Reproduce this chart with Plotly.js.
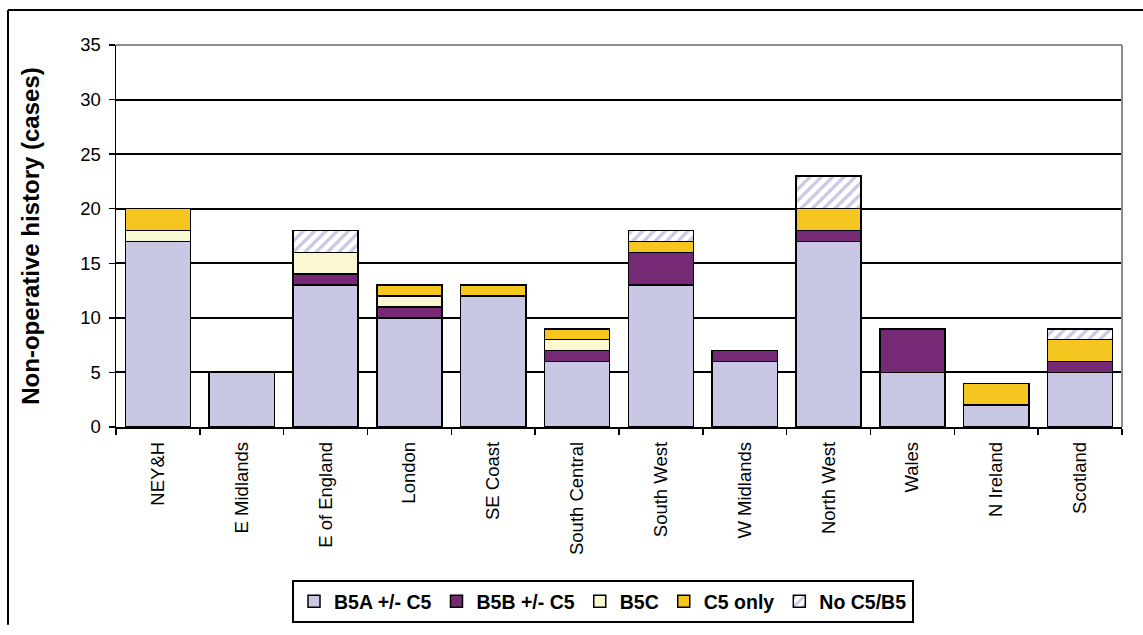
<!DOCTYPE html>
<html>
<head>
<meta charset="utf-8">
<script src="https://cdn.plot.ly/plotly-3.0.1.min.js"></script>
<style>
  html, body { margin: 0; padding: 0; background: #ffffff; }
  #chart { width: 1143px; height: 635px; }
</style>
</head>
<body>
<div id="chart"></div>
<script>
// Regions
const regions = ['NEY&H', 'E Midlands', 'E of England', 'London', 'SE Coast', 'South Central',
                 'South West', 'W Midlands', 'North West', 'Wales', 'N Ireland', 'Scotland'];

// Cases by history category, stacked in this order
const b5a    = [17, 5, 13, 10, 12, 6, 13, 6, 17, 5, 2, 5];
const b5b    = [0, 0, 1, 1, 0, 1, 3, 1, 1, 4, 0, 1];
const b5c    = [1, 0, 2, 1, 0, 1, 0, 0, 0, 0, 0, 0];
const c5only = [2, 0, 0, 1, 1, 1, 1, 0, 2, 0, 2, 2];
const noC5B5 = [0, 0, 2, 0, 0, 0, 1, 0, 3, 0, 0, 1];

const seriesNames = ['B5A +/- C5', 'B5B +/- C5', 'B5C', 'C5 only', 'No C5/B5'];
const yTicks = [0, 5, 10, 15, 20, 25, 30, 35];

const FONT = 'Liberation Sans, Arial, sans-serif';
const outline = { color: '#000000', width: 1.5 };

function barTrace(name, values, marker) {
  return {
    type: 'bar', name: name, x: regions, y: values,
    marker: Object.assign({ line: outline }, marker),
    hoverinfo: 'skip'
  };
}

const traces = [
  barTrace(seriesNames[0], b5a,    { color: '#c9c8e4' }),
  barTrace(seriesNames[1], b5b,    { color: '#762a76' }),
  barTrace(seriesNames[2], b5c,    { color: '#faf8d2' }),
  barTrace(seriesNames[3], c5only, { color: '#f5c620' }),
  barTrace(seriesNames[4], noC5B5, {
    color: '#ffffff',
    pattern: { shape: '/', fgcolor: '#c9c8e4', bgcolor: '#ffffff', size: 8, solidity: 0.4 }
  })
];

// plot area spans x 116..1122, y 45..437 px
const L = 116, R = 1122, T = 45, B = 437;
const px = v => (v - L) / (R - L);
const py = v => (B - v) / (B - T);

const layout = {
  width: 1143, height: 635,
  margin: { l: L, r: 1143 - R, t: T, b: 635 - B, pad: 0 },
  paper_bgcolor: '#ffffff', plot_bgcolor: '#ffffff',
  barmode: 'stack', bargap: 0.224,
  font: { family: FONT, color: '#000000', size: 18 },
  showlegend: true,
  legend: {
    orientation: 'h', x: px(603), xanchor: 'center', y: py(594), yanchor: 'top',
    bordercolor: '#000000', borderwidth: 2, bgcolor: '#ffffff',
    font: { family: FONT, size: 19.5, weight: 'bold', color: '#000000' },
    traceorder: 'normal', itemwidth: 30, itemclick: false
  },
  xaxis: {
    type: 'category', tickangle: -90,
    ticks: 'outside', tickson: 'boundaries', ticklen: 6, tickwidth: 1.5, tickcolor: '#000000',
    ticklabelstandoff: 6,
    showline: true, linecolor: '#000000', linewidth: 1.5,
    showgrid: false, automargin: false,
    tickfont: { family: FONT, size: 18.5, color: '#000000' }
  },
  yaxis: {
    range: [0, 35], tickmode: 'array', tickvals: yTicks, ticktext: yTicks.map(String),
    ticks: 'outside', ticklen: 6, tickwidth: 1.5, tickcolor: '#000000',
    ticklabelstandoff: 4,
    showline: true, linecolor: '#000000', linewidth: 1.5,
    showgrid: true, gridcolor: '#000000', gridwidth: 2,
    zeroline: false, automargin: false,
    tickfont: { family: FONT, size: 18.5, color: '#000000' },
    title: { text: 'Non-operative history (cases)', standoff: 34,
             font: { family: FONT, size: 24, weight: 'bold', color: '#000000' } }
  },
  shapes: [
    // grey frame on the top and right of the plot area
    { type: 'line', xref: 'paper', yref: 'paper', x0: 0, x1: 1, y0: 1, y1: 1,
      line: { color: '#8c8c8c', width: 2 }, layer: 'above' },
    { type: 'line', xref: 'paper', yref: 'paper', x0: 1, x1: 1, y0: 0, y1: 1,
      line: { color: '#8c8c8c', width: 2 }, layer: 'above' },
    // outer chart border
    { type: 'line', xref: 'paper', yref: 'paper', x0: px(8), x1: px(1143), y0: py(9), y1: py(9),
      line: { color: '#000000', width: 2 } },
    { type: 'line', xref: 'paper', yref: 'paper', x0: px(8), x1: px(8), y0: py(9), y1: py(640),
      line: { color: '#000000', width: 2 } }
  ]
};

Plotly.newPlot('chart', traces, layout, { staticPlot: true, displayModeBar: false });
</script>
</body>
</html>
